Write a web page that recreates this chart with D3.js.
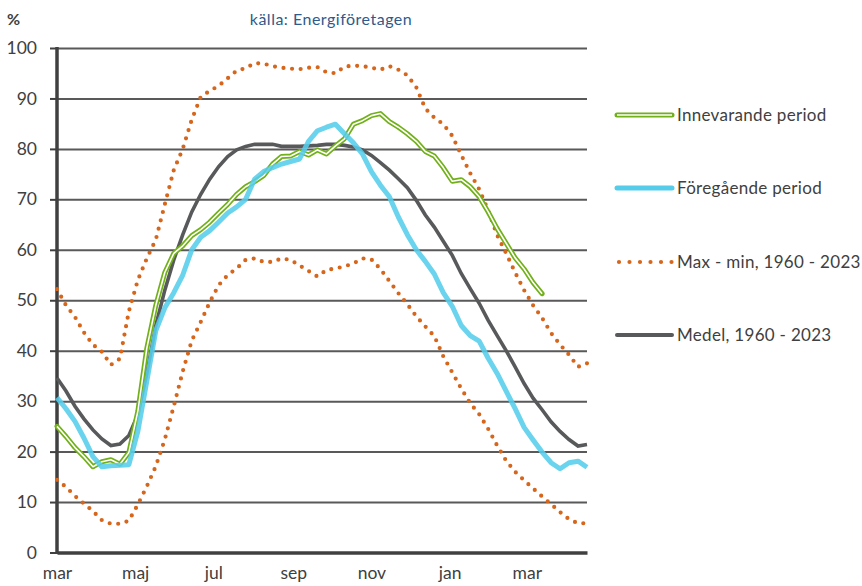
<!DOCTYPE html>
<html>
<head>
<meta charset="utf-8">
<script src="https://cdn.jsdelivr.net/npm/d3@7"></script>
<style>
  body { margin: 0; background: #fff; }
  text { font-family: Lato, "Open Sans", sans-serif; }
</style>
</head>
<body>
<div id="chart"></div>
<script>
// weekly values, week 0 = start of march
var innevarande = [25, 23, 20.8, 19, 17, 18, 18.4, 17.5, 19.8, 28, 40.5, 49, 55.5, 59.3, 60.8, 62.8, 64, 65.5, 67.3, 69,
  71, 72.5, 73.5, 74.7, 77, 78.5, 78.6, 79.5, 78.8, 79.8, 79, 80.6, 82, 84.9, 85.6, 86.6, 87, 85.4, 84.3, 83,
  81.5, 79.5, 78.6, 76.3, 73.6, 73.9, 72.5, 70.5, 67.5, 64.2, 61.3, 58.4, 56.2, 53.5, 51.3];
var foregaende = [30.7, 28.5, 26, 22.7, 19, 17, 17.2, 17.3, 17.4, 24, 34, 44, 48.5, 51.5, 55, 60, 62.5, 63.8, 65.5, 67.3,
  68.5, 70, 74, 75.5, 76.3, 77, 77.5, 78, 81.5, 83.6, 84.3, 84.9, 83, 81.2, 79, 75.5, 72.8, 70.5, 66.5, 63,
  60, 57.7, 55.2, 51.5, 48.8, 45, 43, 41.9, 38.5, 35.5, 32, 28.5, 24.8, 22.3, 19.9, 17.8, 16.6, 17.8, 18.1, 16.9];
var maxVal = [52.2, 49, 46.7, 43.6, 41.2, 39.8, 37.2, 38.4, 47.8, 54, 58.3, 62, 69, 75.8, 80, 85.8, 90.3, 91.5, 92.5, 94,
  95.5, 96, 97, 96.9, 96.4, 96.1, 95.9, 95.8, 96.1, 96.2, 95.2, 95, 96.3, 96.5, 96.4, 96.1, 95.7, 96.4, 95.7, 94.6,
  92.2, 88, 86.2, 84.9, 82.6, 78.8, 75.2, 72, 67.8, 62.9, 59.3, 55.5, 52, 49, 46.5, 43.5, 41.2, 39.2, 36.8, 37.5];
var minVal = [14.4, 13, 11.2, 9.7, 8.2, 6.4, 5.7, 5.7, 6.3, 9.5, 13.1, 17.1, 22.4, 29, 35.9, 42, 45.7, 49.6, 53, 55,
  56.3, 58, 58.3, 57.6, 57.6, 58.3, 58, 56.9, 55.8, 54.7, 56, 56.3, 56.7, 57.3, 58.3, 58.1, 56.2, 53.8, 51.4, 49.2,
  46.8, 44.8, 42.9, 38.9, 35.7, 32.5, 29.6, 27.4, 24.5, 21.2, 18.2, 16, 14.3, 12.7, 11.1, 9.6, 8, 6.6, 5.8, 5.8];
var medel = [34.6, 32, 29, 26.5, 24.3, 22.5, 21.2, 21.5, 23.2, 27.3, 35.5, 45, 52, 58, 63, 67.5, 71, 74, 76.5, 78.5,
  79.8, 80.5, 80.9, 80.9, 80.9, 80.5, 80.5, 80.5, 80.6, 80.7, 80.9, 80.9, 80.7, 80.4, 79.8, 78.7, 77.3, 75.8, 74.1, 72.3,
  69.8, 66.9, 64.5, 61.7, 58.9, 55.3, 52.3, 49.4, 46, 43, 40, 36.8, 33.5, 30.6, 28.3, 25.9, 24, 22.4, 21.1, 21.4];

var monthLabels = ["mar", "maj", "jul", "sep", "nov", "jan", "mar"];
var monthWeeks = [0, 8.7, 17.4, 26.3, 35, 43.7, 52.3];
var yTicks = [0, 10, 20, 30, 40, 50, 60, 70, 80, 90, 100];

var seriesNames = ["Innevarande period", "Föregående period", "Max - min, 1960 - 2023", "Medel, 1960 - 2023"];

var W = 862, H = 586;
var plotL = 57, plotR = 587, plotT = 48, plotB = 552.5;

var svg = d3.select("#chart").append("svg")
  .attr("width", W).attr("height", H);

var x = d3.scaleLinear().domain([0, 59]).range([plotL, plotR]);
var y = d3.scaleLinear().domain([0, 100]).range([plotB, plotT]);

// gridlines
svg.append("g")
  .attr("transform", "translate(" + plotL + ",0)")
  .call(d3.axisLeft(y).tickValues(yTicks.slice(1)).tickSize(-(plotR - plotL)).tickFormat(""))
  .call(function(g) { g.select(".domain").remove(); })
  .selectAll("line")
  .attr("stroke", "#595959").attr("stroke-width", 2);

// y axis with labels
var yAxis = svg.append("g")
  .attr("transform", "translate(" + plotL + ",0)")
  .call(d3.axisLeft(y).tickValues(yTicks).tickSize(7).tickPadding(13));
yAxis.select(".domain").remove();
yAxis.selectAll("line").attr("stroke", "#404040").attr("stroke-width", 2);
yAxis.selectAll("text").attr("fill", "#404040").style("font-size", "17.5px");

svg.append("line")
  .attr("x1", plotL).attr("x2", plotL)
  .attr("y1", y(100) - 1).attr("y2", y(0) + 1.5)
  .attr("stroke", "#404040").attr("stroke-width", 3.5);

// x axis
var xAxis = svg.append("g")
  .attr("transform", "translate(0," + y(0) + ")")
  .call(d3.axisBottom(x).tickValues(monthWeeks).tickSize(0).tickPadding(14)
    .tickFormat(function(d, i) { return monthLabels[i]; }));
xAxis.select(".domain").attr("stroke", "#404040").attr("stroke-width", 3.5);
xAxis.selectAll("text").attr("fill", "#404040").style("font-size", "17.5px");

var line = d3.line()
  .x(function(d, i) { return x(i); })
  .y(function(d) { return y(d); });

var orange = "#d5661b";

// max / min dotted
[maxVal, minVal].forEach(function(s) {
  svg.append("path")
    .datum(s)
    .attr("fill", "none")
    .attr("stroke", orange)
    .attr("stroke-width", 4.2)
    .attr("stroke-linecap", "round")
    .attr("stroke-dasharray", "0,8.6")
    .attr("d", line);
});

// medel
svg.append("path")
  .datum(medel)
  .attr("fill", "none")
  .attr("stroke", "#58595b")
  .attr("stroke-width", 3.6)
  .attr("d", line);

// innevarande - double line
svg.append("path")
  .datum(innevarande)
  .attr("fill", "none")
  .attr("stroke", "#72b01a")
  .attr("stroke-width", 5)
  .attr("stroke-linejoin", "round")
  .attr("stroke-linecap", "round")
  .attr("d", line);
svg.append("path")
  .datum(innevarande)
  .attr("fill", "none")
  .attr("stroke", "#fff")
  .attr("stroke-width", 1.6)
  .attr("stroke-linejoin", "round")
  .attr("d", line);

// foregaende
svg.append("path")
  .datum(foregaende)
  .attr("fill", "none")
  .attr("stroke", "#55cdea")
  .attr("stroke-opacity", 0.88)
  .attr("stroke-width", 5)
  .attr("stroke-linejoin", "round")
  .attr("d", line);

// texts
svg.append("text")
  .attr("x", 7).attr("y", 25)
  .attr("fill", "#404040")
  .style("font-size", "16px").style("font-weight", "bold")
  .text("%");

svg.append("text")
  .attr("x", 331).attr("y", 25)
  .attr("text-anchor", "middle")
  .attr("fill", "#2e5a8c")
  .style("font-size", "16px")
  .style("letter-spacing", "0.5px")
  .text("källa: Energiföretagen");

// legend
var legY = [115, 188, 262, 335];
var lx1 = 617, lx2 = 672;
var leg = svg.append("g");

leg.append("line").attr("x1", lx1).attr("x2", lx2).attr("y1", legY[0]).attr("y2", legY[0])
  .attr("stroke", "#72b01a").attr("stroke-width", 5).attr("stroke-linecap", "round");
leg.append("line").attr("x1", lx1).attr("x2", lx2).attr("y1", legY[0]).attr("y2", legY[0])
  .attr("stroke", "#fff").attr("stroke-width", 1.6);

leg.append("line").attr("x1", lx1).attr("x2", lx2).attr("y1", legY[1]).attr("y2", legY[1])
  .attr("stroke", "#55cdea").attr("stroke-width", 5).attr("stroke-linecap", "round");

leg.append("line").attr("x1", lx1 + 2).attr("x2", lx2).attr("y1", legY[2]).attr("y2", legY[2])
  .attr("stroke", orange).attr("stroke-width", 4.2).attr("stroke-linecap", "round")
  .attr("stroke-dasharray", "0,10.5");

leg.append("line").attr("x1", lx1).attr("x2", lx2).attr("y1", legY[3]).attr("y2", legY[3])
  .attr("stroke", "#58595b").attr("stroke-width", 4).attr("stroke-linecap", "round");

leg.selectAll("text.leg")
  .data(seriesNames)
  .enter().append("text")
  .attr("class", "leg")
  .attr("x", 677)
  .attr("y", function(d, i) { return legY[i]; })
  .attr("dy", "0.35em")
  .attr("fill", "#404040")
  .style("font-size", "17px")
  .style("letter-spacing", "0.3px")
  .text(function(d) { return d; });
</script>
</body>
</html>
